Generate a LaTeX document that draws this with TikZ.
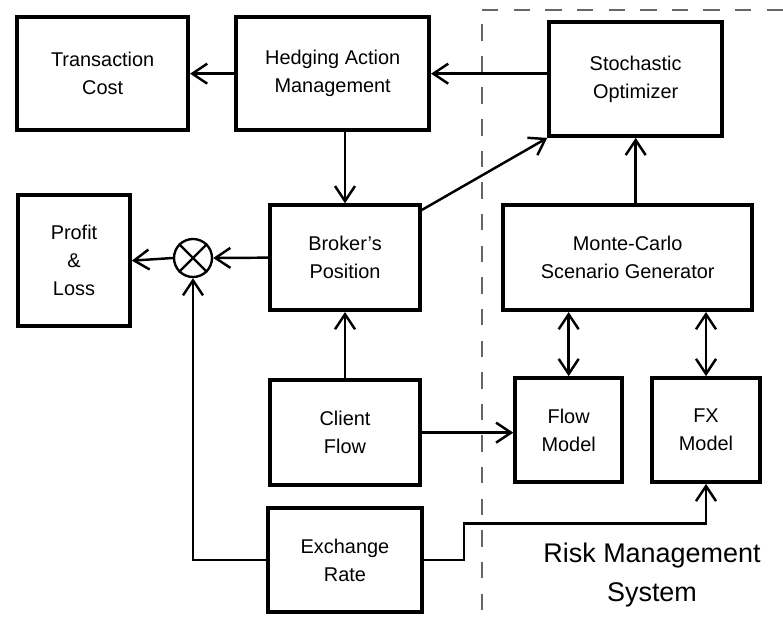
\documentclass[tikz,border=0pt]{standalone}
\usepackage{fontspec}
\setmainfont{Liberation Sans}
\usetikzlibrary{arrows.meta,positioning,calc}

\begin{document}
\begin{tikzpicture}[
  font=\fontsize{17}{24}\selectfont,
  box/.style={draw, line width=3.2pt, align=center, inner sep=4pt},
  mixer/.style={draw, circle, line width=2pt, minimum size=1.14cm, inner sep=0pt},
  arr/.style={-{Straight Barb[length=4.5mm, width=6mm]}, line width=2.1pt},
  biarr/.style={{Straight Barb[length=4.5mm, width=6mm]}-{Straight Barb[length=4.5mm, width=6mm]}, line width=2.1pt},
  border/.style={dashed, dash pattern=on 14pt off 13pt, line width=1.6pt, black!60}
]
\useasboundingbox (0,0) rectangle (23.49,-18.66);

% ---------- Trading side ----------
\node[box, minimum width=5.13cm, minimum height=3.39cm] (trans) at (3.08,-2.21)
  {Transaction\\ Cost};
\node[box, minimum width=5.79cm, minimum height=3.39cm] (hedge) at (9.98,-2.21)
  {Hedging Action\\ Management};
\node[box, minimum width=3.36cm, minimum height=3.93cm] (pl) at (2.22,-7.82)
  {Profit\\ \&\\ Loss};
\node[mixer] (mix) at (5.79,-7.74) {};
\draw[line width=2pt] (mix.north east) -- (mix.south west)
                      (mix.north west) -- (mix.south east);
\node[box, minimum width=4.5cm, minimum height=3.15cm] (broker) at (10.35,-7.73)
  {Broker's\\ Position};
\node[box, minimum width=4.5cm, minimum height=3.15cm] (client) at (10.35,-12.98)
  {Client\\ Flow};
\node[box, minimum width=4.62cm, minimum height=3.12cm] (exch) at (10.35,-16.8)
  {Exchange\\ Rate};

% ---------- Risk management system ----------
\node[box, minimum width=5.19cm, minimum height=3.42cm] (stoch) at (19.07,-2.37)
  {Stochastic\\ Optimizer};
\node[box, minimum width=7.47cm, minimum height=3.15cm] (mc) at (18.83,-7.73)
  {Monte-Carlo\\ Scenario Generator};
\node[box, minimum width=3.21cm, minimum height=3.12cm] (flow) at (17.06,-12.9)
  {Flow\\ Model};
\node[box, minimum width=3.24cm, minimum height=3.12cm] (fx) at (21.18,-12.9)
  {FX\\ Model};
\node[align=center, font=\fontsize{23}{34}\selectfont] (rms) at (19.56,-17.25)
  {Risk Management\\ System};

\coordinate (bdtop) at (14.46,-0.36);
\coordinate (bdbot) at (14.46,-18.3);
\coordinate (bdright) at (23.49,-0.3);
\draw[border] (bdbot) -- (bdtop);
\draw[border] (bdtop |- bdright) -- (bdright);

% ---------- Connectors ----------
\draw[arr] (hedge.west) -- (trans.east);
\draw[arr] (stoch.west |- hedge.east) -- (hedge.east);
\draw[arr] (hedge.south -| broker.north) -- (broker.north);
\draw[arr] ([yshift=-0.2cm]broker.north east) -- (stoch.south west);
\draw[arr] (mc.north -| stoch.south) -- (stoch.south);
\draw[arr] (broker.west) -- (mix.east);
\draw[arr] (mix.west) -- (pl.east);
\draw[arr] (client.north) -- (broker.south);
\draw[arr] (client.east) -- (client.east -| flow.west);
\draw[biarr] (mc.south -| flow.north) -- (flow.north);
\draw[biarr] (mc.south -| fx.north) -- (fx.north);
\draw[arr] (exch.west) -| (mix.south);
\draw[arr] (exch.east) -| ++(1.2,1.1) -| (fx.south);
\end{tikzpicture}
\end{document}
